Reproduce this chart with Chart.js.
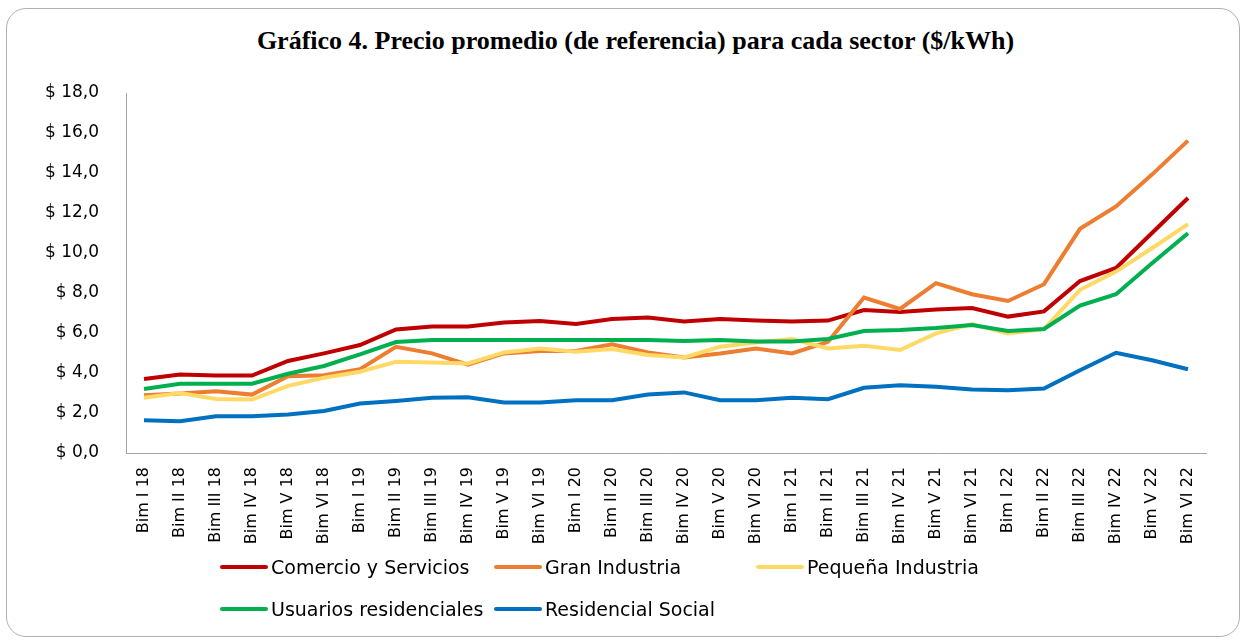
<!DOCTYPE html>
<html>
<head>
<meta charset="utf-8">
<script src="https://cdn.jsdelivr.net/npm/chart.js@4/dist/chart.umd.min.js"></script>
<style>
  html, body { margin: 0; padding: 0; background: #fff; }
  #wrap { position: relative; width: 1248px; height: 640px; overflow: hidden; }
  #frame { position: absolute; left: 6px; top: 8px; width: 1234px; height: 629px;
           border: 1px solid #b0b0b0; border-radius: 20px; box-sizing: border-box; }
  #titulo { position: absolute; left: 0; width: 1271px; top: 26px; text-align: center;
            font: bold 26px "Liberation Serif", "DejaVu Serif", serif; color: #000; }
  #c { position: absolute; left: 0; top: 0; }
  .ley { position: absolute; height: 24px; display: flex; align-items: center;
         font: 19px "DejaVu Sans", sans-serif; color: #000; white-space: nowrap; }
  .ley span.l { display: inline-block; width: 48px; height: 4px; border-radius: 2px; margin-right: 3px; }
</style>
</head>
<body>
<div id="wrap">
  <div id="frame"></div>
  <div id="titulo">Gráfico 4. Precio promedio (de referencia) para cada sector ($/kWh)</div>
  <canvas id="c" width="1248" height="640"></canvas>
  <div id="leyenda"></div>
</div>
<script>
var periodos = ["Bim I 18","Bim II 18","Bim III 18","Bim IV 18","Bim V 18","Bim VI 18",
  "Bim I 19","Bim II 19","Bim III 19","Bim IV 19","Bim V 19","Bim VI 19",
  "Bim I 20","Bim II 20","Bim III 20","Bim IV 20","Bim V 20","Bim VI 20",
  "Bim I 21","Bim II 21","Bim III 21","Bim IV 21","Bim V 21","Bim VI 21",
  "Bim I 22","Bim II 22","Bim III 22","Bim IV 22","Bim V 22","Bim VI 22"];

var comercio = [3.70,3.93,3.87,3.87,4.60,4.98,5.40,6.18,6.32,6.32,6.52,6.60,
  6.45,6.70,6.77,6.57,6.70,6.63,6.57,6.62,7.15,7.05,7.18,7.25,6.82,7.08,8.60,9.25,11.0,12.75];
var granIndustria = [2.89,2.97,3.09,2.92,3.84,3.89,4.19,5.31,4.98,4.42,4.98,5.10,
  5.10,5.43,5.03,4.78,4.98,5.23,4.98,5.56,7.77,7.20,8.49,7.94,7.60,8.44,11.21,12.33,13.92,15.62];
var pequenaIndustria = [2.76,3.00,2.70,2.67,3.36,3.76,4.06,4.56,4.53,4.48,5.03,5.23,
  5.06,5.20,4.90,4.78,5.31,5.53,5.70,5.23,5.36,5.15,5.98,6.45,5.98,6.20,8.16,9.07,10.24,11.44];
var residenciales = [3.20,3.46,3.46,3.46,3.96,4.35,4.93,5.55,5.65,5.65,5.65,5.65,
  5.65,5.65,5.65,5.60,5.65,5.58,5.58,5.70,6.10,6.15,6.25,6.40,6.10,6.20,7.37,7.94,9.49,10.99];
var residencialSocial = [1.64,1.59,1.84,1.84,1.92,2.10,2.47,2.60,2.76,2.79,2.52,2.52,
  2.64,2.64,2.92,3.03,2.64,2.64,2.76,2.69,3.26,3.39,3.31,3.17,3.14,3.22,4.14,5.01,4.64,4.19];

var nombres = ["Comercio y Servicios","Gran Industria","Pequeña Industria","Usuarios residenciales","Residencial Social"];
var colores = ["#C00000","#ED7D31","#FFD966","#00B050","#0070C0"];
var series = [comercio, granIndustria, pequenaIndustria, residenciales, residencialSocial];

// orden de dibujo: el de Excel (primero abajo)
var datasets = series.map(function(s, i) {
  return {
    label: nombres[i],
    data: s,
    borderColor: colores[i],
    backgroundColor: colores[i],
    borderWidth: 4,
    pointRadius: 0,
    tension: 0,
    order: 4 - i
  };
});

new Chart(document.getElementById("c"), {
  type: "line",
  data: { labels: periodos, datasets: datasets },
  options: {
    responsive: false,
    animation: false,
    layout: { padding: { left: 20, right: 42, top: 93, bottom: 95 } },
    plugins: { legend: { display: false }, tooltip: { enabled: false } },
    scales: {
      x: {
        offset: true,
        grid: { display: false, offset: true },
        border: { display: true, color: "#a6a6a6", width: 1 },
        ticks: {
          color: "#000", minRotation: 90, maxRotation: 90, autoSkip: false, padding: 6,
          font: { family: "DejaVu Sans", size: 16 }
        },
        afterFit: function(scale) { scale.height = 92; }
      },
      y: {
        min: 0, max: 18,
        grid: { display: false },
        border: { display: true, color: "#a6a6a6", width: 1 },
        ticks: {
          stepSize: 2, color: "#000", padding: 19,
          font: { family: "DejaVu Sans", size: 17 },
          callback: function(v) { return "$ " + v.toFixed(1).replace(".", ","); }
        },
        afterFit: function(scale) { scale.width = 106; }
      }
    }
  }
});

// leyenda como en Excel: tres columnas, dos filas
var posX = [220, 494, 756, 220, 494];
var posY = [555, 555, 555, 597, 597];
var ley = document.getElementById("leyenda");
nombres.forEach(function(n, i) {
  var d = document.createElement("div");
  d.className = "ley";
  d.style.left = posX[i] + "px";
  d.style.top = posY[i] + "px";
  d.innerHTML = '<span class="l" style="background:' + colores[i] + '"></span>' + n;
  ley.appendChild(d);
});
</script>
</body>
</html>
